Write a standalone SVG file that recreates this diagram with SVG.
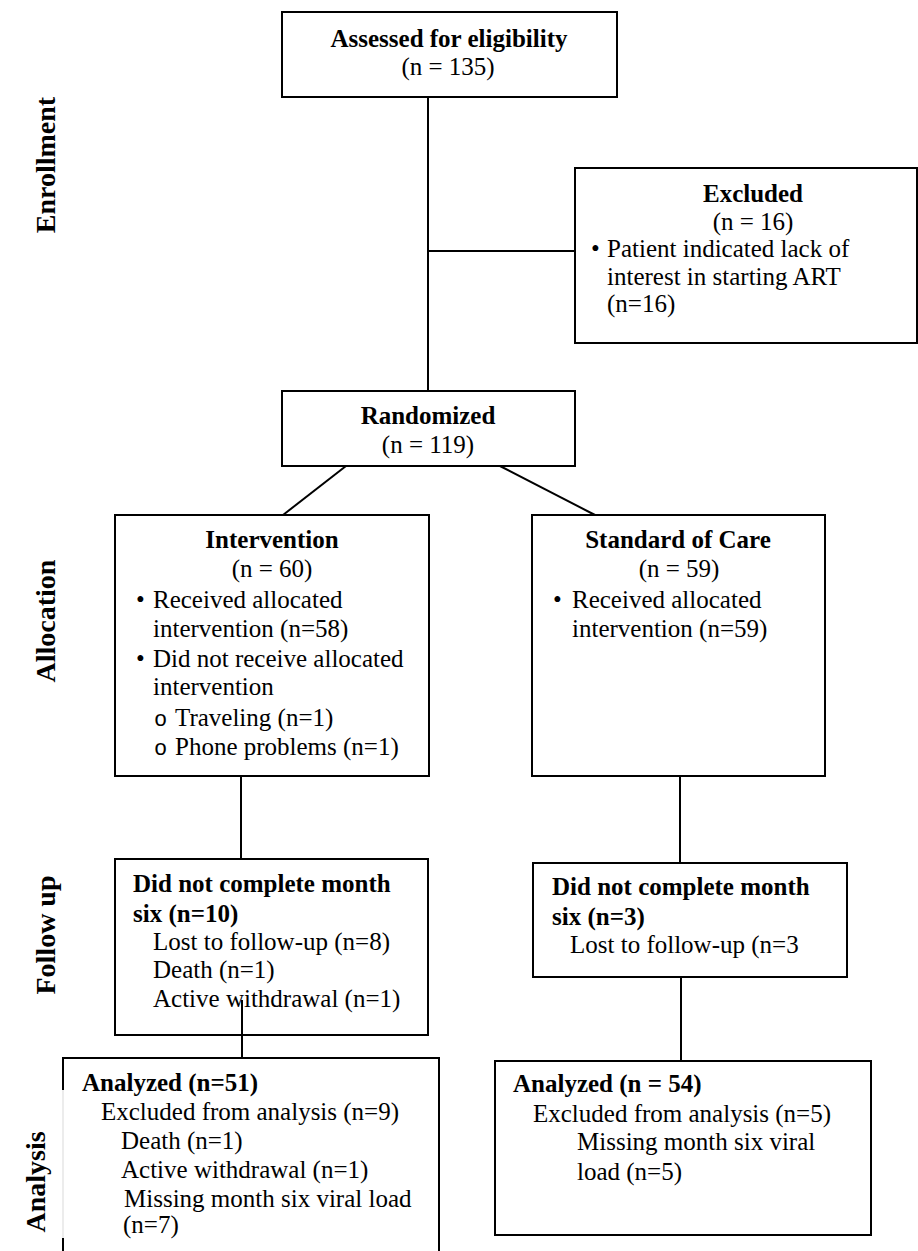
<svg xmlns="http://www.w3.org/2000/svg" width="918" height="1251" viewBox="0 0 918 1251">
<style>
text{font-family:"Liberation Serif","Times New Roman",serif;font-size:25px;fill:#000}
.b{font-weight:bold}
.c{text-anchor:middle}
.m{font-family:"Liberation Mono","Courier New",monospace;font-size:22px}
.lab{font-weight:bold;font-size:28px;text-anchor:middle}
.box{fill:#fff;stroke:#000;stroke-width:2}
.ln{stroke:#000;stroke-width:2;fill:none}
</style>
<rect width="918" height="1251" fill="#fff"/>
<g id="labels">
<text class="lab" transform="translate(55,165) rotate(-90)">Enrollment</text>
<text class="lab" transform="translate(55,621) rotate(-90)">Allocation</text>
<text class="lab" transform="translate(55,935) rotate(-90)">Follow up</text>
<text class="lab" transform="translate(45,1182) rotate(-90)">Analysis</text>
</g>
<g id="assessed">
<rect class="box" x="282" y="12" width="335" height="85"/>
<text class="b c" x="449" y="47">Assessed for eligibility</text>
<text class="c" x="448" y="75">(n = 135)</text>
</g>
<g id="excluded">
<rect class="box" x="575" y="168" width="342" height="175"/>
<text class="b c" x="753" y="202">Excluded</text>
<text class="c" x="753" y="230">(n = 16)</text>
<text x="591" y="257">•</text>
<text x="607" y="257">Patient indicated lack of</text>
<text x="607" y="285">interest in starting ART</text>
<text x="607" y="312">(n=16)</text>
</g>
<g id="randomized">
<rect class="box" x="282" y="391" width="293" height="75"/>
<text class="b c" x="428" y="424">Randomized</text>
<text class="c" x="428" y="453">(n = 119)</text>
</g>
<g id="intervention">
<rect class="box" x="115" y="515" width="314" height="261"/>
<text class="b c" x="272" y="548">Intervention</text>
<text class="c" x="272" y="577">(n = 60)</text>
<text x="136" y="608">•</text>
<text x="153" y="608">Received allocated</text>
<text x="153" y="637">intervention (n=58)</text>
<text x="136" y="667">•</text>
<text x="153" y="667">Did not receive allocated</text>
<text x="153" y="695">intervention</text>
<text class="m" x="154" y="726">o</text>
<text x="175" y="726">Traveling (n=1)</text>
<text class="m" x="154" y="755">o</text>
<text x="175" y="755">Phone problems (n=1)</text>
</g>
<g id="standard">
<rect class="box" x="532" y="515" width="293" height="261"/>
<text class="b c" x="678" y="548">Standard of Care</text>
<text class="c" x="679" y="577">(n = 59)</text>
<text x="553" y="608">•</text>
<text x="572" y="608">Received allocated</text>
<text x="572" y="637">intervention (n=59)</text>
</g>
<g id="followup-int">
<rect class="box" x="115" y="859" width="313" height="176"/>
<text class="b" x="133" y="892">Did not complete month</text>
<text class="b" x="133" y="922">six (n=10)</text>
<text x="153" y="950">Lost to follow-up (n=8)</text>
<text x="153" y="978">Death (n=1)</text>
<text x="153" y="1007">Active withdrawal (n=1)</text>
</g>
<g id="followup-soc">
<rect class="box" x="533" y="863" width="314" height="114"/>
<text class="b" x="552" y="895">Did not complete month</text>
<text class="b" x="552" y="925">six (n=3)</text>
<text x="570" y="953">Lost to follow-up (n=3</text>
</g>
<g id="analysis-int">
<path class="ln" d="M63,1090 V1058 H439 V1251"/>
<path class="ln" d="M63,1238 V1251"/>
<path d="M63,1090 V1238" stroke="#e6e6e6" stroke-width="1.5"/>
<text class="b" x="82" y="1091">Analyzed (n=51)</text>
<text x="101" y="1120">Excluded from analysis (n=9)</text>
<text x="121" y="1149">Death (n=1)</text>
<text x="121" y="1178">Active withdrawal (n=1)</text>
<text x="124" y="1207">Missing month six viral load</text>
<text x="123" y="1233">(n=7)</text>
</g>
<g id="analysis-soc">
<rect class="box" x="495" y="1061" width="376" height="174"/>
<text class="b" x="513" y="1092">Analyzed (n = 54)</text>
<text x="533" y="1122">Excluded from analysis (n=5)</text>
<text x="577" y="1150">Missing month six viral</text>
<text x="577" y="1180">load (n=5)</text>
</g>
<g id="connectors">
<path class="ln" d="M428,97 V391"/>
<path class="ln" d="M428,251 H575"/>
<path class="ln" d="M346,466 L283,515"/>
<path class="ln" d="M500,466 L595,515"/>
<path class="ln" d="M241,776 V859"/>
<path class="ln" d="M242,1000 V1058"/>
<path class="ln" d="M680,776 V863"/>
<path class="ln" d="M681,977 V1061"/>
</g>
</svg>
